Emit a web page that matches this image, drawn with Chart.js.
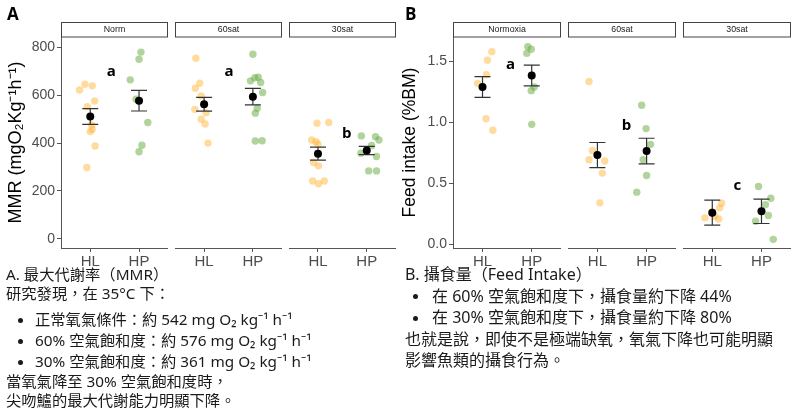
<!DOCTYPE html>
<html>
<head>
<meta charset="utf-8">
<script src="https://cdn.jsdelivr.net/npm/chart.js@4"></script>
<style>
  html, body { margin: 0; padding: 0; background: #fff; }
  body { width: 800px; height: 419px; position: relative; overflow: hidden;
         font-family: "Noto Sans", "Noto Sans CJK TC", sans-serif; color: #1a1a1a; }
  canvas { position: absolute; top: 0; }
  .tag { position: absolute; top: 2px; font: bold 17px "Open Sans", "Liberation Sans", sans-serif; color: #000; }
  .note { position: absolute; font-size: 16px; white-space: nowrap; }
  .note .li { position: relative; }
  .note .li::before { content: ""; position: absolute; top: 50%; width: 5px; height: 5px;
                      margin-top: -2px; border-radius: 50%; background: #1a1a1a; }
  #noteA { top: 265px; line-height: 19px; font-size: 15.3px; }
  #noteA .li { padding-left: 29px; line-height: 21px; }
  #noteA .li.first { margin-top: 6px; }
  #noteA .li::before { left: 12px; }
  #noteB { top: 264px; line-height: 21.5px; }
  #noteB .li { padding-left: 27px; }
  #noteB .li::before { left: 8px; }
</style>
</head>
<body>
<canvas id="chartA" width="400" height="270" style="left:0"></canvas>
<canvas id="chartB" width="400" height="270" style="left:400px"></canvas>
<div class="tag" style="left:7px">A</div>
<div class="tag" style="left:405px">B</div>

<div class="note" id="noteA" style="left:6px">
  <div>A. 最大代謝率（MMR）</div>
  <div>研究發現，在 35°C 下：</div>
  <div class="li first">正常氧氣條件：約 542 mg O₂ kg⁻¹ h⁻¹</div>
  <div class="li">60% 空氣飽和度：約 576 mg O₂ kg⁻¹ h⁻¹</div>
  <div class="li">30% 空氣飽和度：約 361 mg O₂ kg⁻¹ h⁻¹</div>
  <div>當氧氣降至 30% 空氣飽和度時，</div>
  <div>尖吻鱸的最大代謝能力明顯下降。</div>
</div>
<div class="note" id="noteB" style="left:405px">
  <div>B. 攝食量（Feed Intake）</div>
  <div class="li">在 60% 空氣飽和度下，攝食量約下降 44%</div>
  <div class="li">在 30% 空氣飽和度下，攝食量約下降 80%</div>
  <div>也就是說，即使不是極端缺氧，氧氣下降也可能明顯</div>
  <div>影響魚類的攝食行為。</div>
</div>

<script>
// groups and facets
var groups = ['HL', 'HP'];
var facetsA = ['Norm', '60sat', '30sat'];
var facetsB = ['Normoxia', '60sat', '30sat'];

// panel A: MMR, one array per facet
var mmrHL = [
  [622, 646, 639, 576, 552, 476, 458, 448, 388, 298],
  [754, 650, 629, 597, 541, 527, 500, 480, 400],
  [483, 486, 413, 406, 395, 319, 305, 242, 242, 230]
];
var mmrHLjit = [
  [-0.22, -0.11, 0.04, 0.09, -0.06, 0.03, 0.04, 0.0, 0.10, -0.07],
  [-0.17, -0.09, -0.18, -0.06, -0.19, 0.04, -0.06, 0.02, 0.08],
  [-0.02, 0.22, -0.13, -0.04, 0.0, -0.09, 0.01, -0.11, 0.13, 0.01]
];
var mmrHP = [
  [780, 750, 664, 583, 486, 391, 364],
  [771, 673, 675, 653, 660, 611, 546, 525, 409, 410],
  [430, 427, 413, 390, 358, 344, 284, 284]
];
var mmrHPjit = [
  [0.04, 0.0, -0.18, -0.06, 0.18, 0.06, 0.0],
  [0.0, 0.04, 0.11, 0.16, -0.05, 0.2, 0.09, 0.05, 0.05, 0.19],
  [-0.11, 0.18, 0.25, 0.1, -0.12, 0.2, 0.04, 0.2]
];
var mmrMeanHL = [511, 562, 356];
var mmrSeHL = [33, 28.5, 27];
var mmrMeanHP = [577, 594, 369];
var mmrSeHP = [43, 34.5, 17];
var mmrLetters = ['a', 'a', 'b'];
var mmrLetterX = [1.43, 1.51, 1.59];
var mmrLetterY = [698, 698, 441];
var mmrTicks = [0, 200, 400, 600, 800];

// panel B: feed intake
var feedHL = [
  [1.58, 1.51, 1.39, 1.32, 1.03, 0.935],
  [1.335, 0.77, 0.694, 0.683, 0.584, 0.34],
  [0.337, 0.299, 0.265, 0.217, 0.208, 0.23]
];
var feedHLjit = [
  [0.19, 0.1, 0.08, -0.1, 0.07, 0.21],
  [-0.17, -0.1, -0.17, 0.15, 0.1, 0.05],
  [0.19, 0.15, 0.0, -0.15, 0.13, 0.05]
];
var feedHP = [
  [1.62, 1.60, 1.566, 1.29, 1.26, 0.984],
  [1.14, 0.949, 0.82, 0.694, 0.565, 0.428],
  [0.474, 0.378, 0.326, 0.236, 0.189, 0.041]
];
var feedHPjit = [
  [-0.08, -0.01, -0.1, 0.05, -0.01, 0.0],
  [-0.1, -0.01, 0.08, -0.07, 0.0, -0.2],
  [-0.06, 0.19, 0.08, 0.14, -0.12, 0.24]
];
var feedMeanHL = [1.29, 0.732, 0.26];
var feedSeHL = [0.085, 0.103, 0.102];
var feedMeanHP = [1.385, 0.765, 0.271];
var feedSeHP = [0.085, 0.105, 0.1];
var feedLetters = ['a', 'b', 'c'];
var feedLetterX = [1.57, 1.59, 1.51];
var feedLetterY = [1.47, 0.976, 0.483];
var feedTicks = [0.0, 0.5, 1.0, 1.5];

var HL_COL = 'rgba(255,176,40,0.45)';
var HP_COL = 'rgba(100,170,60,0.5)';
var GAP = 0.135;
var STEP = 2.2 + GAP;

function xOf(f, g, off) { return f * STEP + g + 1 + (off || 0); }

// error bars under the mean dots
var errorBars = {
  id: 'errorBars',
  beforeDatasetDraw: function (chart, args) {
    var ds = chart.data.datasets[args.index];
    if (!ds.isMean) return;
    var ctx = chart.ctx, xs = chart.scales.x, ys = chart.scales.y;
    ctx.save();
    ctx.strokeStyle = '#333';
    ctx.lineWidth = 1.2;
    ds.data.forEach(function (p) {
      var x = xs.getPixelForValue(p.x);
      var y1 = ys.getPixelForValue(p.y - p.se), y2 = ys.getPixelForValue(p.y + p.se);
      ctx.beginPath();
      ctx.moveTo(x, y1); ctx.lineTo(x, y2);
      ctx.moveTo(x - 8, y1); ctx.lineTo(x + 8, y1);
      ctx.moveTo(x - 8, y2); ctx.lineTo(x + 8, y2);
      ctx.stroke();
    });
    ctx.restore();
  }
};

// facet strips, per-facet x axis lines, letters
var facetDecor = {
  id: 'facetDecor',
  afterDraw: function (chart, args, o) {
    var ctx = chart.ctx, xs = chart.scales.x, ys = chart.scales.y, area = chart.chartArea;
    ctx.save();
    o.facets.forEach(function (name, f) {
      var l = Math.round(xs.getPixelForValue(0.4 + f * STEP)) + 0.5;
      var r = Math.round(xs.getPixelForValue(2.6 + f * STEP)) - 0.5;
      ctx.fillStyle = '#fff';
      ctx.strokeStyle = '#444';
      ctx.lineWidth = 1;
      ctx.fillRect(l, 22, r - l, 15);
      ctx.strokeRect(l, 22.5, r - l, 14.5);
      ctx.fillStyle = '#1a1a1a';
      ctx.font = '8.8px "Liberation Sans", Arial, sans-serif';
      ctx.textAlign = 'center';
      ctx.textBaseline = 'middle';
      ctx.fillText(name, (l + r) / 2, 30);
      ctx.strokeStyle = '#555';
      ctx.beginPath();
      ctx.moveTo(l - 0.5, area.bottom + 0.5);
      ctx.lineTo(r + 0.5, area.bottom + 0.5);
      ctx.stroke();
      ctx.fillStyle = '#000';
      ctx.font = 'bold 15px "Open Sans", "Liberation Sans", sans-serif';
      ctx.fillText(o.letters[f], xs.getPixelForValue(f * STEP + o.letterX[f]), ys.getPixelForValue(o.letterY[f]));
    });
    ctx.restore();
  }
};

function makePanel(id, hl, hlJit, hp, hpJit, meanHL, seHL, meanHP, seHP, yMin, yMax, yTicks, yTitle, titleSize, yW, titlePad, rightPad, decor, tickFmt) {
  var means = [];
  for (var f = 0; f < 3; f++) {
    means.push({ x: xOf(f, 0), y: meanHL[f], se: seHL[f] });
    means.push({ x: xOf(f, 1), y: meanHP[f], se: seHP[f] });
  }
  var datasets = [{
    data: means, isMean: true, order: 0,
    pointRadius: 4, backgroundColor: '#000', borderColor: '#000', borderWidth: 0
  }];
  for (var f2 = 0; f2 < 3; f2++) {
    datasets.push({
      order: 1, pointRadius: 3.7, borderWidth: 0, backgroundColor: HL_COL,
      data: hl[f2].map(function (v, i) { return { x: xOf(f2, 0, hlJit[f2][i]), y: v }; })
    });
    datasets.push({
      order: 1, pointRadius: 3.7, borderWidth: 0, backgroundColor: HP_COL,
      data: hp[f2].map(function (v, i) { return { x: xOf(f2, 1, hpJit[f2][i]), y: v }; })
    });
  }
  var xTicks = [];
  for (var f3 = 0; f3 < 3; f3++) { xTicks.push(xOf(f3, 0)); xTicks.push(xOf(f3, 1)); }

  return new Chart(document.getElementById(id), {
    type: 'scatter',
    data: { datasets: datasets },
    options: {
      responsive: false,
      animation: false,
      layout: { padding: { left: 0, right: rightPad, top: 37, bottom: 0 } },
      plugins: { legend: { display: false }, tooltip: { enabled: false }, facetDecor: decor },
      scales: {
        x: {
          type: 'linear', min: 0.4, max: 2.6 + 2 * STEP,
          border: { display: false },
          grid: { drawOnChartArea: false, tickLength: 4, color: '#555' },
          afterBuildTicks: function (s) { s.ticks = xTicks.map(function (v) { return { value: v }; }); },
          afterFit: function (s) { s.height = 22; },
          ticks: {
            autoSkip: false, maxRotation: 0, padding: 1, color: '#4d4d4d',
            font: { family: '"Liberation Sans", Arial, sans-serif', size: 15 },
            callback: function (v, i) { return groups[i % 2]; }
          }
        },
        y: {
          min: yMin, max: yMax,
          border: { display: true, color: '#555', width: 1 },
          grid: { drawOnChartArea: false, tickLength: 4, color: '#555' },
          afterBuildTicks: function (s) { s.ticks = yTicks.map(function (v) { return { value: v }; }); },
          afterFit: function (s) { s.width = yW; },
          ticks: {
            padding: 2, color: '#4d4d4d',
            font: { family: '"Liberation Sans", Arial, sans-serif', size: 14 },
            callback: tickFmt
          },
          title: {
            display: true, text: yTitle, color: '#000', padding: { top: titlePad, bottom: 0 },
            font: { family: '"Liberation Sans", Arial, sans-serif', size: titleSize }
          }
        }
      }
    },
    plugins: [errorBars, facetDecor]
  });
}

makePanel('chartA', mmrHL, mmrHLjit, mmrHP, mmrHPjit, mmrMeanHL, mmrSeHL, mmrMeanHP, mmrSeHP,
  -38, 843, mmrTicks, 'MMR (mgO₂Kg⁻¹h⁻¹)', 18, 61, 5, 3,
  { facets: facetsA, letters: mmrLetters, letterX: mmrLetterX, letterY: mmrLetterY },
  function (v) { return String(v); });

makePanel('chartB', feedHL, feedHLjit, feedHP, feedHPjit, feedMeanHL, feedSeHL, feedMeanHP, feedSeHP,
  -0.03, 1.70, feedTicks, 'Feed intake (%BM)', 17.5, 53, 0, 9,
  { facets: facetsB, letters: feedLetters, letterX: feedLetterX, letterY: feedLetterY },
  function (v) { return v.toFixed(1); });
</script>
</body>
</html>
